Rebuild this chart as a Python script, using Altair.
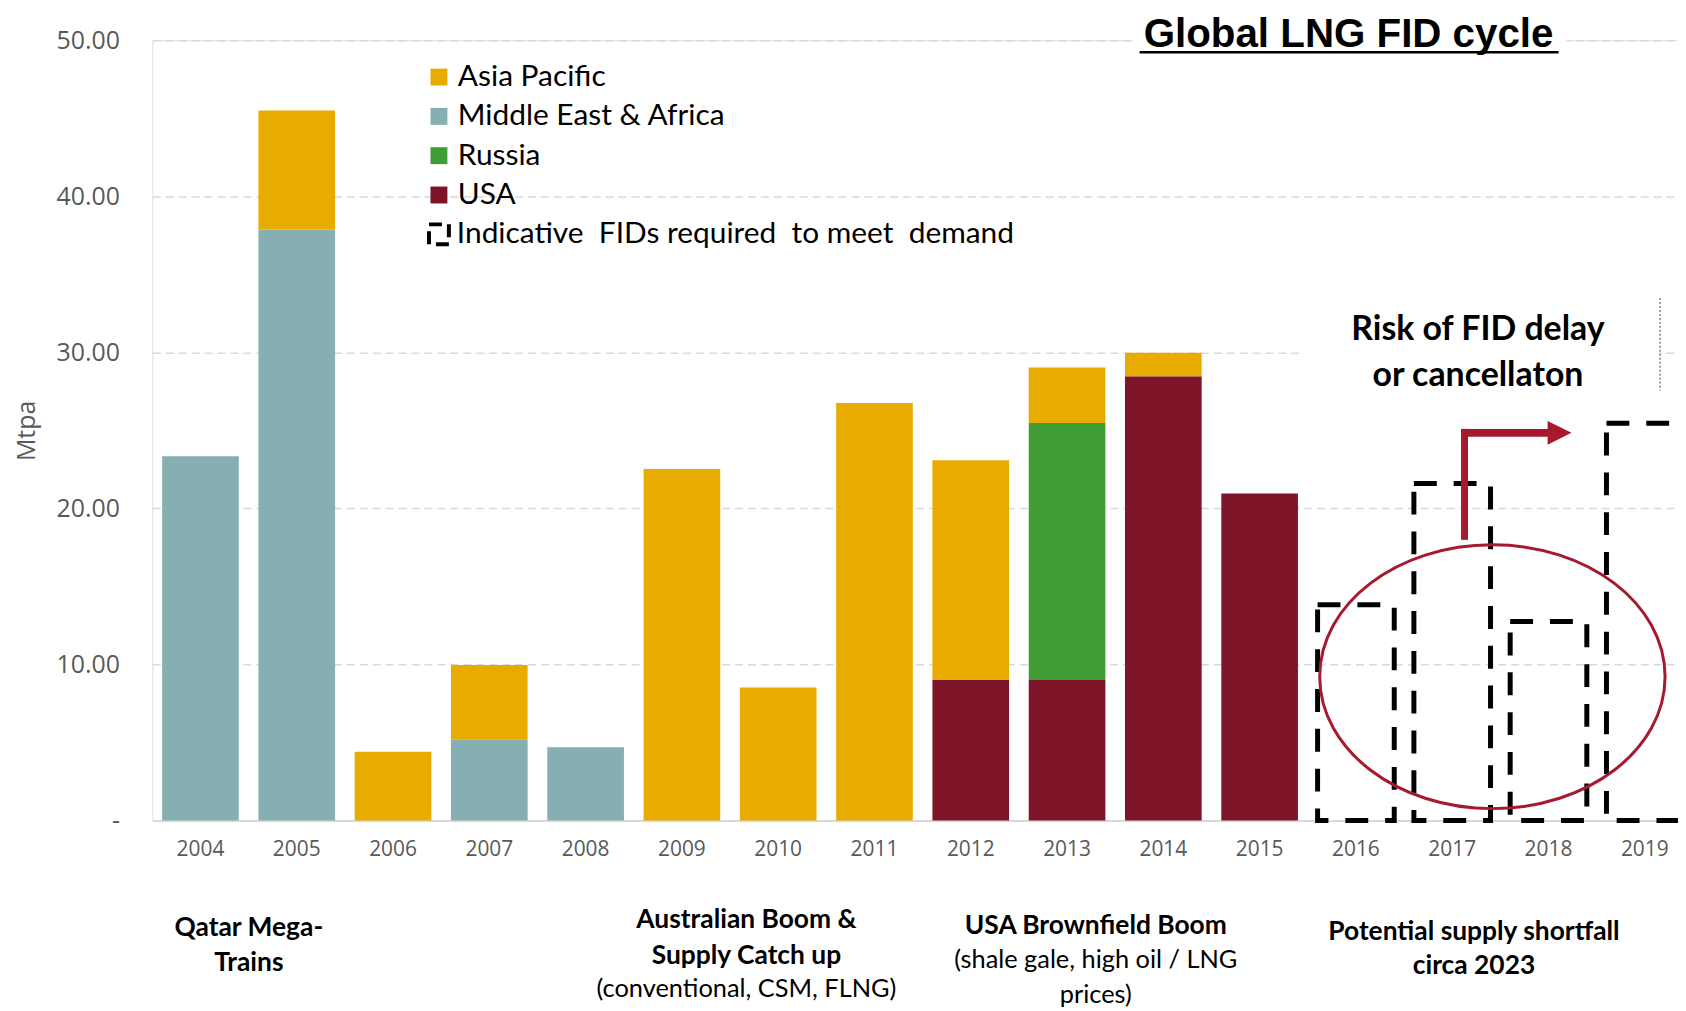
import altair as alt
import pandas as pd

# ---------------- data ----------------
all_years = [str(y) for y in range(2004, 2020)]
bar_years = [str(y) for y in range(2004, 2016)]
regions = ["Asia Pacific", "Middle East & Africa", "Russia", "USA"]
region_colors = ["#E8AC00", "#86AFB4", "#409C35", "#7E1427"]
stack_rank = {"USA": 0, "Middle East & Africa": 1, "Russia": 2, "Asia Pacific": 3}

asia_pacific = [0, 7.62, 4.41, 4.80, 0, 22.52, 8.53, 26.76, 14.08, 3.55, 1.51, 0]
middle_east_africa = [23.35, 37.88, 0, 5.17, 4.69, 0, 0, 0, 0, 0, 0, 0]
russia = [0, 0, 0, 0, 0, 0, 0, 0, 0, 16.48, 0, 0]
usa = [0, 0, 0, 0, 0, 0, 0, 0, 9.00, 9.00, 28.46, 20.95]

indicative_years = ["2016", "2017", "2018", "2019"]
indicative_values = [13.83, 21.59, 12.76, 25.46]
indicative_label = ["Indicative\u00a0 FIDs required\u00a0 to meet\u00a0 demand"]

title_text = ["Global LNG FID cycle"]
risk_text = ["Risk of FID delay", "or cancellaton"]
qatar_text = ["Qatar Mega-", "Trains"]
aus_text = ["Australian Boom &", "Supply Catch up"]
aus_sub = ["(conventional, CSM, FLNG)"]
usa_text = ["USA Brownfield Boom"]
usa_sub = ["(shale gale, high oil / LNG", "prices)"]
pot_text = ["Potential supply shortfall", "circa 2023"]

series = {"Asia Pacific": asia_pacific, "Middle East & Africa": middle_east_africa,
          "Russia": russia, "USA": usa}
rows = []
for reg, vals in series.items():
    for yr, v in zip(bar_years, vals):
        if v > 0:
            rows.append({"year": yr, "region": reg, "value": v, "rank": stack_rank[reg]})
bars_df = pd.DataFrame(rows)
ind_df = pd.DataFrame({"year": indicative_years, "value": indicative_values})
one = pd.DataFrame({"a": [0]})

# ---------------- layout constants (pixels, relative to plot area) ----------------
W, H = 1533, 784
RED = "#A6192E"
TXT_FONT = "Lato"

xscale = alt.Scale(domain=all_years, range=[0, 1548], paddingInner=0.204, paddingOuter=0.102)
yscale = alt.Scale(domain=[0, 50])

xaxis = alt.Axis(title=None, labelAngle=0, ticks=False, domain=True, domainColor="#D9D9D9",
                 domainWidth=2, labelFont="Open Sans", labelFontSize=21, labelColor="#595959",
                 labelPadding=18, grid=False)
yaxis = alt.Axis(values=[0, 10, 20, 30, 40, 50],
                 labelExpr="datum.value == 0 ? '-\u00a0\u00a0' : format(datum.value, '.2f')",
                 domain=False, ticks=False, grid=True, gridDash=[8, 5], gridColor="#D9D9D9",
                 gridWidth=1.5, labelFont="Open Sans", labelFontSize=25, labelColor="#595959",
                 labelPadding=33, title="Mtpa", titleFont="Open Sans", titleFontSize=25,
                 titleFontWeight="normal", titleColor="#595959", titleX=-126, titleY=392,
                 titleAngle=270, titleBaseline="middle", titleAlign="center")

# white boxes behind title and risk text (hide gridlines)
white1 = alt.Chart(one).mark_rect(color="white").encode(
    x=alt.value(985), x2=alt.value(1421), y=alt.value(-8), y2=alt.value(13))
white2 = alt.Chart(one).mark_rect(color="white").encode(
    x=alt.value(1157), x2=alt.value(1514), y=alt.value(252), y2=alt.value(354))
dotted = alt.Chart(one).mark_rule(color="#404040", strokeWidth=1, strokeDash=[2, 2]).encode(
    x=alt.value(1515), y=alt.value(259), y2=alt.value(352))

bars = alt.Chart(bars_df).mark_bar().encode(
    x=alt.X("year:N", scale=xscale, axis=xaxis, sort=all_years),
    y=alt.Y("value:Q", stack="zero", scale=yscale, axis=yaxis),
    color=alt.Color("region:N", scale=alt.Scale(domain=regions, range=region_colors),
                    legend=alt.Legend(orient="none", legendX=273, legendY=22, title=None,
                                      symbolType="square", symbolSize=289, symbolStrokeWidth=0,
                                      labelFont=TXT_FONT, labelFontSize=30, labelColor="black",
                                      labelLimit=0, rowPadding=9.5, labelOffset=4, padding=0)),
    order=alt.Order("rank:Q"),
)

dashed = alt.Chart(ind_df).mark_bar(fillOpacity=0, stroke="black", strokeWidth=5,
                                    strokeDash=[23, 17]).encode(
    x=alt.X("year:N", scale=xscale, sort=all_years),
    y=alt.Y("value:Q", scale=yscale),
)

# extra legend entry
leg_sym = alt.Chart(one).mark_point(shape="square", size=400, filled=False, color="black",
                                    strokeWidth=4, strokeDash=[13, 7], opacity=1).encode(
    x=alt.value(288), y=alt.value(195))
leg_txt = alt.Chart(pd.DataFrame({"t": indicative_label})).mark_text(
    font=TXT_FONT, fontSize=30, align="left", baseline="middle", color="black").encode(
    x=alt.value(306), y=alt.value(195), text="t:N")

# ellipse
k = 0.5523
ry = 0.764
ell_path = (f"M 1 0 C 1 {k*ry:.3f} {k:.3f} {ry} 0 {ry} C {-k:.3f} {ry} -1 {k*ry:.3f} -1 0 "
            f"C -1 {-k*ry:.3f} {-k:.3f} {-ry} 0 {-ry} C {k:.3f} {-ry} 1 {-k*ry:.3f} 1 0 Z")
ellipse = alt.Chart(one).mark_point(shape=ell_path, size=347 * 347, filled=False, color=RED,
                                    strokeWidth=3, opacity=1).encode(
    x=alt.value(1346.5), y=alt.value(639.5))

# arrow
arr_v = alt.Chart(one).mark_rule(color=RED, strokeWidth=7).encode(
    x=alt.value(1318.5), y=alt.value(390.5), y2=alt.value(502))
arr_h = alt.Chart(one).mark_rule(color=RED, strokeWidth=8).encode(
    x=alt.value(1315), x2=alt.value(1404), y=alt.value(394.5))
arr_head = alt.Chart(one).mark_point(shape="M -1 -1 L 1 0 L -1 1 Z", size=576, filled=True,
                                     color=RED, opacity=1).encode(
    x=alt.value(1414), y=alt.value(394.5))


def text_line(txt, x, y, size, weight="normal", font=TXT_FONT):
    return alt.Chart(pd.DataFrame({"t": [txt]})).mark_text(
        font=font, fontSize=size, fontWeight=weight, align="center", baseline="alphabetic",
        color="black").encode(x=alt.value(x), y=alt.value(y), text="t:N")


title = text_line(title_text[0], 1202, 7, 40.5, "bold", "Liberation Sans")
underline = alt.Chart(one).mark_rule(color="black", strokeWidth=2.5).encode(
    x=alt.value(992), x2=alt.value(1413), y=alt.value(12))

texts = [
    text_line(risk_text[0], 1332, 301, 34, "bold"),
    text_line(risk_text[1], 1332, 347, 34, "bold"),
    text_line(qatar_text[0], 97, 900, 26.5, "bold"),
    text_line(qatar_text[1], 97, 935, 26.5, "bold"),
    text_line(aus_text[0], 597, 892, 26.5, "bold"),
    text_line(aus_text[1], 597, 928, 26.5, "bold"),
    text_line(aus_sub[0], 597, 961, 25.5, "normal"),
    text_line(usa_text[0], 948, 898, 26.5, "bold"),
    text_line(usa_sub[0], 948, 932, 25.5, "normal"),
    text_line(usa_sub[1], 948, 967, 25.5, "normal"),
    text_line(pot_text[0], 1328, 904, 26.5, "bold"),
    text_line(pot_text[1], 1328, 938, 26.5, "bold"),
]

chart = alt.layer(
    white1, white2, dotted, bars, dashed, leg_sym, leg_txt, ellipse, arr_v, arr_h, arr_head,
    title, underline, *texts
).properties(
    width=W, height=H,
    padding={"left": 145, "top": 30, "right": 0, "bottom": 189},
    autosize=alt.AutoSizeParams(type="none"),
).configure_view(stroke=None).configure(background="white")

chart.save("out.html", embed_options={"renderer": "svg", "actions": False})
